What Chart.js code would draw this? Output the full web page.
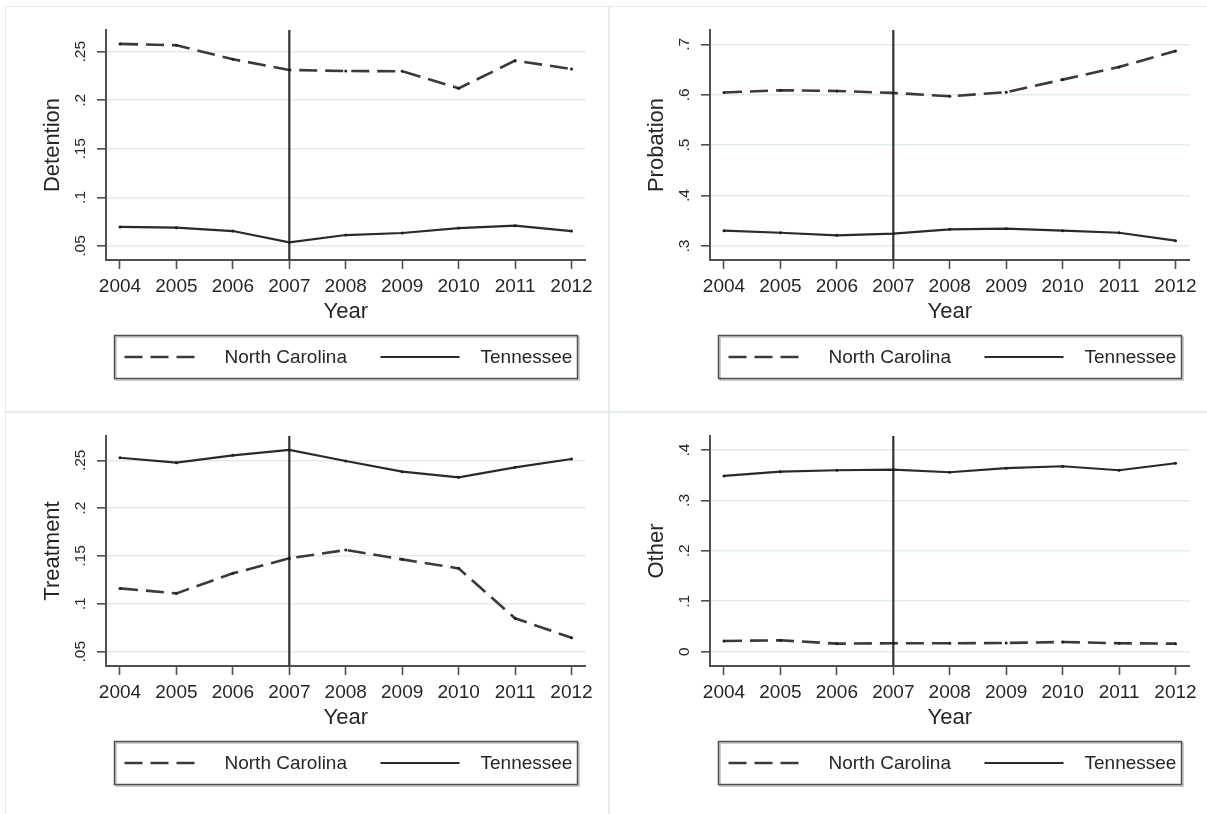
<!DOCTYPE html>
<html>
<head>
<meta charset="utf-8">
<script src="https://cdn.jsdelivr.net/npm/chart.js@4.4.1/dist/chart.umd.min.js"></script>
<style>
  body { margin: 0; background: #fff; width: 1207px; height: 814px; overflow: hidden; position: relative; }
  .panel { position: absolute; width: 604px; height: 406px; box-shadow: inset 0 0 0 1px #e4ecef; }
  .panel canvas { position: absolute; left: 0; top: 0; }
</style>
</head>
<body>
<div class="panel" style="left:5px;top:6px"><canvas id="detention-chart" width="604" height="406"></canvas></div>
<div class="panel" style="left:609px;top:6px"><canvas id="probation-chart" width="604" height="406"></canvas></div>
<div class="panel" style="left:5px;top:412px"><canvas id="treatment-chart" width="604" height="406"></canvas></div>
<div class="panel" style="left:609px;top:412px"><canvas id="other-chart" width="604" height="406"></canvas></div>

<script>
// years and the policy year marked by the vertical line
const years = [2004, 2005, 2006, 2007, 2008, 2009, 2010, 2011, 2012];
const cutoffYear = 2007;

// share of dispositions
const detentionNC = [0.258, 0.2566, 0.2422, 0.2312, 0.2301, 0.2298, 0.2123, 0.2407, 0.2322];
const detentionTN = [0.0696, 0.0689, 0.0654, 0.0538, 0.0613, 0.0634, 0.0685, 0.0709, 0.0654];
const probationNC = [0.6044, 0.6089, 0.6075, 0.6036, 0.597, 0.605, 0.630, 0.655, 0.6867];
const probationTN = [0.3303, 0.3263, 0.3212, 0.3244, 0.3331, 0.3343, 0.3303, 0.3263, 0.3105];
const treatmentNC = [0.1162, 0.111, 0.1319, 0.1476, 0.1563, 0.1465, 0.1371, 0.0849, 0.0646];
const treatmentTN = [0.2527, 0.2475, 0.2552, 0.2608, 0.2493, 0.2381, 0.2322, 0.2427, 0.2514];
const otherNC = [0.0212, 0.0226, 0.0159, 0.0167, 0.0167, 0.0173, 0.0192, 0.0167, 0.0159];
const otherTN = [0.3486, 0.3571, 0.3599, 0.3611, 0.3559, 0.3639, 0.3678, 0.3599, 0.3738];

// y tick values and axis extents per panel
const detentionTicks = [0.05, 0.1, 0.15, 0.2, 0.25];
const probationTicks = [0.3, 0.4, 0.5, 0.6, 0.7];
const treatmentTicks = [0.05, 0.1, 0.15, 0.2, 0.25];
const otherTicks = [0, 0.1, 0.2, 0.3, 0.4];
const detentionRange = [0.0356, 0.2723];
const probationRange = [0.2722, 0.7284];
const treatmentRange = [0.0351, 0.2754];
const otherRange = [-0.0284, 0.4278];
const yearRange = [2003.752, 2012.248];

const FONT = '"Liberation Sans", Arial, sans-serif';
const TEXT = '#262626';
const AXIS = '#505050';
const GRID = '#e2ebee';
const TICK_LEN = 9;
const Y_TICK_SIZE = 15.5;

Chart.defaults.font.family = FONT;
Chart.defaults.color = TEXT;

// Stata style: .05 instead of 0.05
const stataLabel = (v) => (v === 0 ? '0' : String(+v.toFixed(2)).replace(/^(-?)0\./, '$1.'));

function yLabelPadding(ticks) {
  const ctx = document.createElement('canvas').getContext('2d');
  ctx.font = `${Y_TICK_SIZE}px ${FONT}`;
  const widest = Math.max(...ticks.map((v) => ctx.measureText(stataLabel(v)).width));
  return 25 - TICK_LEN - widest / 2;
}

const boxedLegend = {
  id: 'boxedLegend',
  afterDraw(chart) {
    const { ctx } = chart;
    const left = 109.5, top = 329.5, width = 463, height = 43;
    const items = [
      { from: 10, to: 83, textX: 110 },
      { from: 266, to: 345, textX: 366 }
    ];
    ctx.save();
    ctx.lineWidth = 1.5;
    ctx.strokeStyle = '#bdbdbd';
    ctx.strokeRect(left + 1.5, top + 1.5, width, height);
    ctx.strokeStyle = AXIS;
    ctx.strokeRect(left, top, width, height);
    const cy = top + height / 2;
    chart.data.datasets.filter((ds) => ds.label).forEach((ds, i) => {
      const item = items[i];
      ctx.setLineDash(ds.borderDash || []);
      ctx.strokeStyle = ds.borderColor;
      ctx.lineWidth = ds.borderWidth;
      ctx.beginPath();
      ctx.moveTo(left + item.from, cy);
      ctx.lineTo(left + item.to, cy);
      ctx.stroke();
      ctx.setLineDash([]);
      ctx.fillStyle = TEXT;
      ctx.font = `19px ${FONT}`;
      ctx.textBaseline = 'middle';
      ctx.fillText(ds.label, left + item.textX, cy + 1);
    });
    ctx.restore();
  }
};

function makePanel(id, yTitle, ncValues, tnValues, yTicks, yRange) {
  return new Chart(document.getElementById(id), {
    type: 'line',
    data: {
      datasets: [
        {
          label: 'North Carolina',
          data: years.map((x, i) => ({ x, y: ncValues[i] })),
          borderColor: '#3a3a3a',
          borderWidth: 2.6,
          borderDash: [18, 8],
          pointRadius: 1.5,
          pointBorderWidth: 0,
          pointBackgroundColor: '#1e1e1e',
          tension: 0
        },
        {
          label: 'Tennessee',
          data: years.map((x, i) => ({ x, y: tnValues[i] })),
          borderColor: '#2a2a2a',
          borderWidth: 2.2,
          pointRadius: 1.5,
          pointBorderWidth: 0,
          pointBackgroundColor: '#1e1e1e',
          tension: 0
        },
        {
          label: '',
          data: [{ x: cutoffYear, y: yRange[0] }, { x: cutoffYear, y: yRange[1] }],
          borderColor: '#333',
          borderWidth: 2.2,
          pointRadius: 0
        }
      ]
    },
    options: {
      responsive: false,
      animation: false,
      layout: { padding: { left: 0, top: 24, right: 23.5, bottom: 72 } },
      plugins: {
        legend: { display: false },
        tooltip: { enabled: false }
      },
      scales: {
        x: {
          type: 'linear',
          min: yearRange[0],
          max: yearRange[1],
          afterBuildTicks: (scale) => { scale.ticks = years.map((value) => ({ value })); },
          afterFit: (scale) => { scale.height = 80; },
          grid: { drawOnChartArea: false, tickLength: TICK_LEN, tickColor: AXIS, tickWidth: 1.6 },
          border: { color: AXIS, width: 2 },
          ticks: {
            autoSkip: false,
            minRotation: 0,
            maxRotation: 0,
            padding: 6.5,
            font: { size: 19 },
            color: TEXT,
            callback: (value) => String(value)
          },
          title: { display: true, text: 'Year', font: { size: 22 }, color: TEXT, padding: { top: 0, bottom: 14.5 } }
        },
        y: {
          min: yRange[0],
          max: yRange[1],
          afterBuildTicks: (scale) => { scale.ticks = yTicks.map((value) => ({ value })); },
          afterFit: (scale) => { scale.width = 101; },
          grid: { color: GRID, lineWidth: 1.6, tickLength: TICK_LEN, tickColor: AXIS, tickWidth: 1.6 },
          border: { color: AXIS, width: 2 },
          ticks: {
            minRotation: 90,
            maxRotation: 90,
            crossAlign: 'center',
            padding: yLabelPadding(yTicks),
            font: { size: Y_TICK_SIZE },
            color: TEXT,
            callback: (value) => stataLabel(value)
          },
          title: { display: true, text: yTitle, font: { size: 22 }, color: TEXT, padding: { top: 34.8, bottom: 0 } }
        }
      }
    },
    plugins: [boxedLegend]
  });
}

makePanel('detention-chart', 'Detention', detentionNC, detentionTN, detentionTicks, detentionRange);
makePanel('probation-chart', 'Probation', probationNC, probationTN, probationTicks, probationRange);
makePanel('treatment-chart', 'Treatment', treatmentNC, treatmentTN, treatmentTicks, treatmentRange);
makePanel('other-chart', 'Other', otherNC, otherTN, otherTicks, otherRange);
</script>
</body>
</html>
